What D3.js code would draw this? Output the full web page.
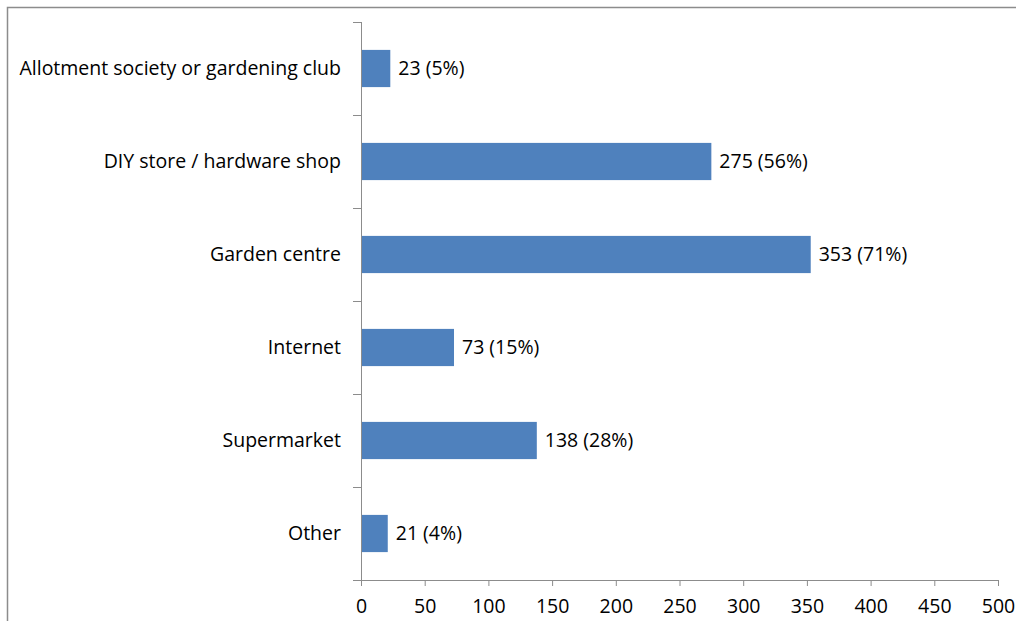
<!DOCTYPE html>
<html>
<head>
<meta charset="utf-8">
<script src="https://cdnjs.cloudflare.com/ajax/libs/d3/7.8.5/d3.min.js"></script>
<style>
  html, body { margin: 0; padding: 0; background: #fff; }
  svg { display: block; }
  text { font-family: "Open Sans", "Noto Sans", sans-serif; fill: #000; }
</style>
</head>
<body>
<svg id="chart" width="1016" height="621"></svg>
<script>
const categories = [
  "Allotment society or gardening club",
  "DIY store / hardware shop",
  "Garden centre",
  "Internet",
  "Supermarket",
  "Other"
];
const counts = [23, 275, 353, 73, 138, 21];
const percents = [5, 56, 71, 15, 28, 4];
const xTicks = [0, 50, 100, 150, 200, 250, 300, 350, 400, 450, 500];

const svg = d3.select("#chart");
const W = 1016, H = 621;
const margin = { left: 361, right: 18, top: 22, bottom: 41 };
const fontSize = 19.5;

// chart frame
svg.append("path")
  .attr("d", `M7.5,${H} V7.5 H${W}`)
  .attr("fill", "none")
  .attr("stroke", "#8c8c8c")
  .attr("stroke-width", 1.5);

const x = d3.scaleLinear().domain([0, 500]).range([margin.left, W - margin.right]);
const y = d3.scaleBand().domain(categories).range([margin.top, H - margin.bottom])
  .paddingInner(0.6).paddingOuter(0.3);

const data = categories.map((c, i) => ({ c, v: counts[i], p: percents[i] }));

// bars
svg.append("g").selectAll("rect").data(data).join("rect")
  .attr("x", x(0))
  .attr("y", d => y(d.c))
  .attr("width", d => x(d.v) - x(0))
  .attr("height", y.bandwidth())
  .attr("fill", "#4f81bd");

// value labels
svg.append("g").selectAll("text").data(data).join("text")
  .attr("x", d => x(d.v) + 8)
  .attr("y", d => y(d.c) + y.bandwidth() / 2)
  .attr("dy", "0.31em")
  .attr("font-size", fontSize)
  .text(d => `${d.v} (${d.p}%)`);

const axisColor = "#8c8c8c";

// x axis
const xAxis = svg.append("g")
  .attr("transform", `translate(0,${H - margin.bottom})`)
  .call(d3.axisBottom(x).tickValues(xTicks).tickSize(6).tickPadding(13).tickSizeOuter(0));
xAxis.select(".domain").attr("stroke", axisColor).attr("d", `M${x(0) - 8},0.5H${x(500)}`);
xAxis.selectAll(".tick line").attr("stroke", axisColor);
xAxis.selectAll(".tick text").attr("font-size", fontSize).attr("font-family", "'Open Sans', sans-serif").attr("fill", "#000");

// y axis with ticks between categories
const yAxisG = svg.append("g");
yAxisG.append("line")
  .attr("x1", x(0) + 0.5).attr("x2", x(0) + 0.5)
  .attr("y1", margin.top).attr("y2", H - margin.bottom)
  .attr("stroke", axisColor);
const bounds = d3.range(categories.length + 1).map(i => margin.top + (H - margin.bottom - margin.top) * i / categories.length);
yAxisG.selectAll("line.tk").data(bounds).join("line")
  .attr("class", "tk")
  .attr("x1", x(0) - 8).attr("x2", x(0))
  .attr("y1", d => Math.round(d) + 0.5).attr("y2", d => Math.round(d) + 0.5)
  .attr("stroke", axisColor);

yAxisG.selectAll("text").data(categories).join("text")
  .attr("x", x(0) - 20)
  .attr("y", d => y(d) + y.bandwidth() / 2)
  .attr("dy", "0.31em")
  .attr("text-anchor", "end")
  .attr("font-size", fontSize)
  .text(d => d);
</script>
</body>
</html>
